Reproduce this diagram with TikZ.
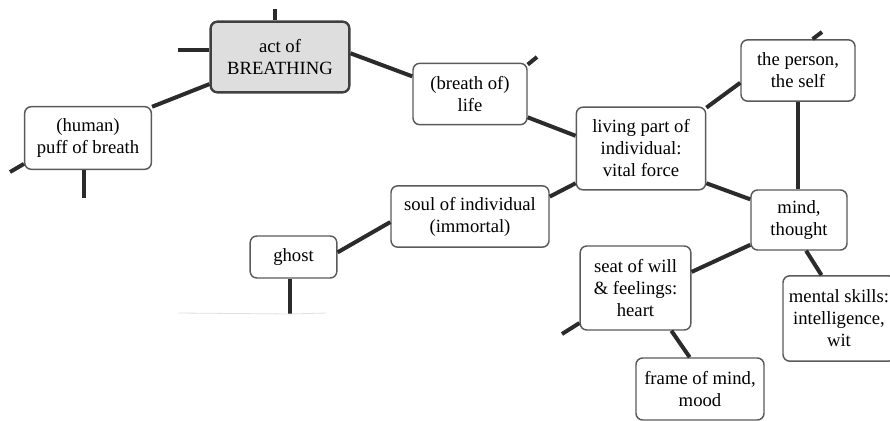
\documentclass[tikz,border=0pt]{standalone}
\usepackage{fontspec}
\setmainfont{Liberation Serif}
\definecolor{boxline}{HTML}{5A5A5A}
\definecolor{linkline}{HTML}{2B2B2B}
\definecolor{mainfill}{HTML}{DEDEDE}
\tikzset{
  concept/.style={draw=boxline, line width=1.1pt, rounded corners=5pt, fill=white,
    align=center, inner sep=2pt, font=\rmfamily\fontsize{14}{16.5}\selectfont},
  mainconcept/.style={concept, fill=mainfill, draw=linkline!90, line width=1.8pt},
  link/.style={draw=linkline, line width=3pt}
}
\begin{document}
\begin{tikzpicture}[x=0.75pt,y=-0.75pt]
	\useasboundingbox (0,0) rectangle (890,421);
	% concepts
	\node [mainconcept, minimum width=104pt, minimum height=53pt] (act) at (280,57) {act of\\BREATHING};
	\node [concept, minimum width=95pt, minimum height=47pt] (puff) at (88,138) {(human)\\puff of breath};
	\node [concept, minimum width=85.5pt, minimum height=46pt] (life) at (470,94) {(breath of)\\life};
	\node [concept, minimum width=97pt, minimum height=62pt] (living) at (641,148.5) {living part of\\individual:\\vital force};
	\node [concept, minimum width=85.5pt, minimum height=46pt] (person) at (798,70.5) {the person,\\the self};
	\node [concept, minimum width=72pt, minimum height=45pt] (mind) at (799,220) {mind,\\thought};
	\node [concept, minimum width=118.5pt, minimum height=46pt] (soul) at (470,216.5) {soul of individual\\(immortal)};
	\node [concept, minimum width=65pt, minimum height=31.5pt] (ghost) at (293.5,257) {ghost};
	\node [concept, minimum width=83pt, minimum height=63pt] (seat) at (635.5,288) {seat of will\\\& feelings:\\heart};
	\node [concept, minimum width=84pt, minimum height=64pt] (skills) at (839,318.5) {mental skills:\\intelligence,\\wit};
	\node [concept, minimum width=96pt, minimum height=46.5pt] (frame) at (700,389) {frame of mind,\\mood};
	% links
	\draw [link] (act.201) -- (puff.26);
	\draw [link] (act.3) -- (life.163);
	\draw [link] (life.-22) -- (living.169);
	\draw [link] (living.32) -- (person.192);
	\draw [link] (person.south) -- (person.south |- mind.north);
	\draw [link] (living.-28) -- (mind.157);
	\draw [link] (living.208) -- (soul.14.5);
	\draw [link] (soul.184) -- (ghost.6.6);
	\draw [link] (mind.207.5) -- (seat.16.4);
	\draw [link] (mind.-77) -- (skills.112);
	\draw [link] (seat.-50) -- (frame.108);
	% cut-off links
	\coordinate (actup) at (275,9);
	\coordinate (actleft) at (178,50);
	\coordinate (lifeend) at (537,57);
	\coordinate (puffleft) at (10,172);
	\coordinate (puffdown) at (84,198);
	\coordinate (personup) at (822,32);
	\coordinate (ghostdown) at (290,314);
	\coordinate (seatleft) at (562,334);
	\draw [link] (actup) -- (actup |- act.north);
	\draw [link] (actleft) -- (actleft -| act.west);
	\draw [link] (life.27) -- (lifeend);
	\draw [link] (puff.202) -- (puffleft);
	\draw [link] (puffdown) -- (puffdown |- puff.south);
	\draw [link] (person.65) -- (personup);
	\draw [link] (ghostdown) -- (ghostdown |- ghost.south);
	\draw [link] (seat.212) -- (seatleft);
	\draw [gray!25, line width=0.6pt] (178,313) -- (ghostdown) -- (326,313);
\end{tikzpicture}
\end{document}
